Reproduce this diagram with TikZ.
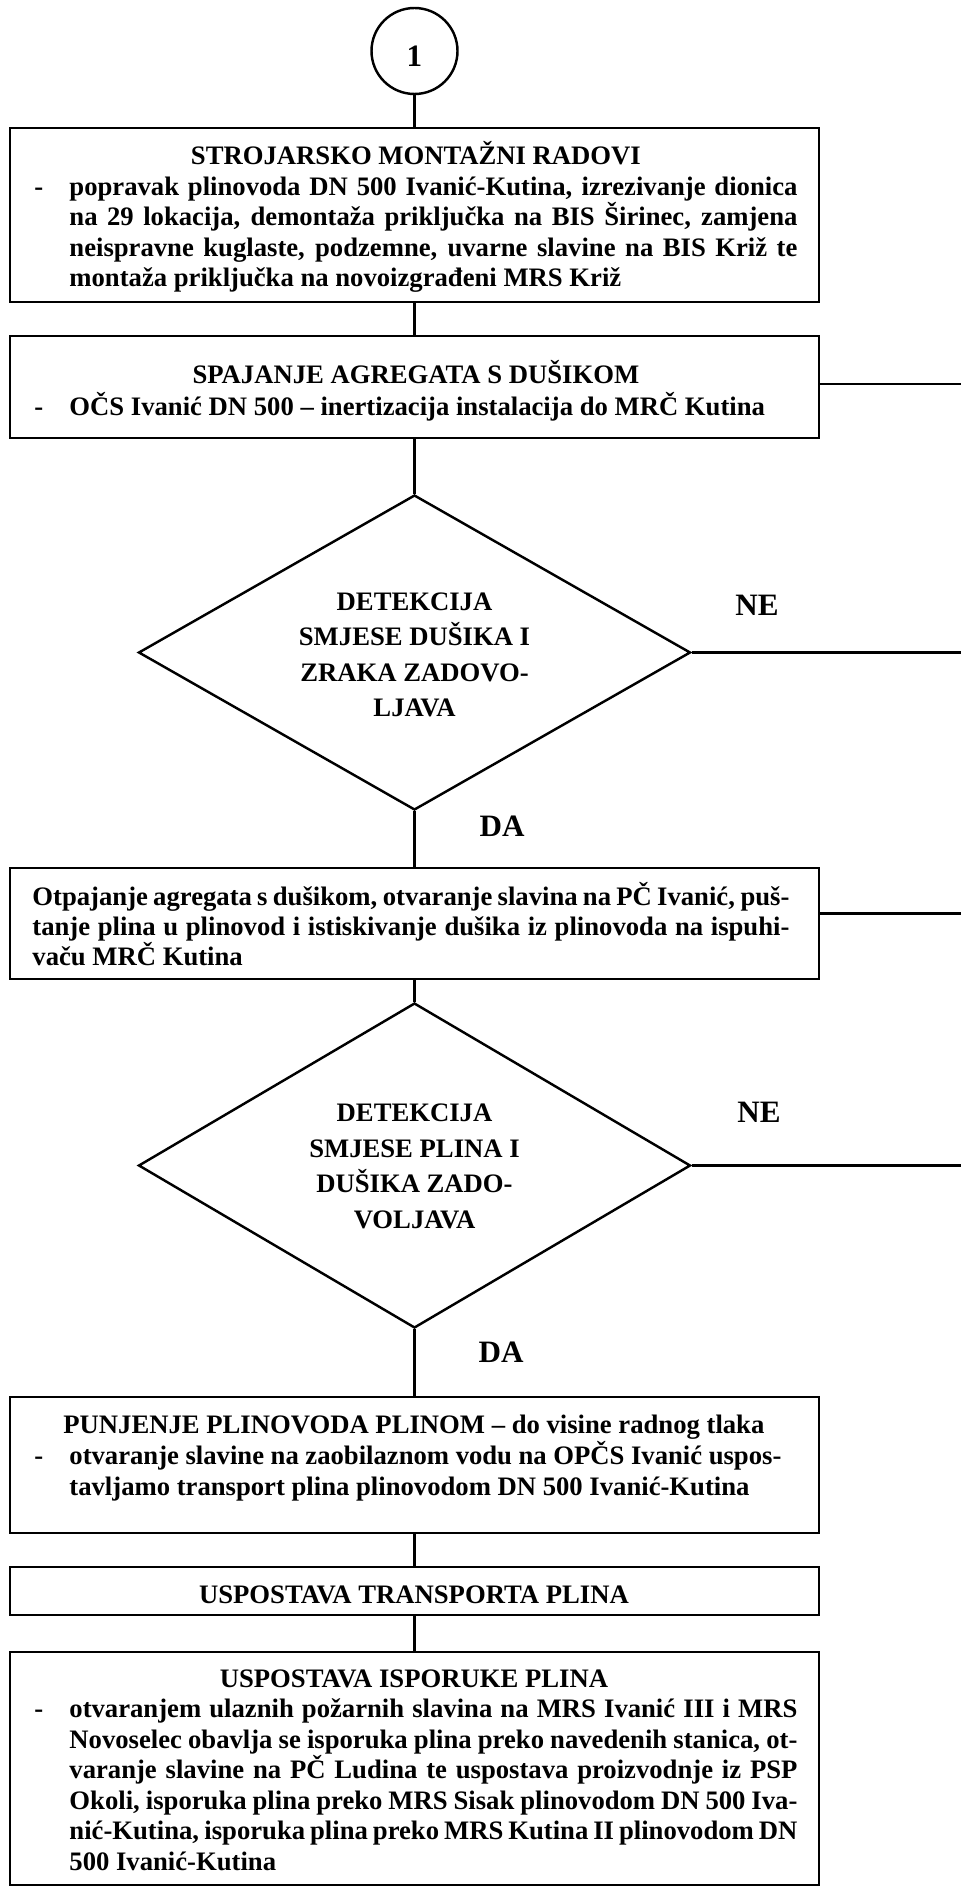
\documentclass[tikz,border=0pt]{standalone}
\usepackage{fontspec}
\setmainfont{Liberation Serif}
\usetikzlibrary{shapes.geometric}
\newdimen\pxu \pxu=0.45pt
\newcommand\JL[2]{\hbox to #1\pxu{#2}}
\newcommand\CL[2]{\hbox to #1\pxu{\hfil #2\hfil}}
\newcommand\DS{\hbox to 35\pxu{-\hfil}}
\newcommand\IN{\hskip 35\pxu\relax}
\newcommand\BLK[2]{\vtop{\baselineskip=#1\pxu\lineskiplimit=-20pt\lineskip=0pt\relax #2}}
\tikzset{
  boxn/.style={draw, line width=1.3pt, rectangle, minimum width=809\pxu, inner sep=0pt},
  dia/.style={draw, line width=1.1pt, diamond, minimum width=552\pxu, minimum height=315\pxu, inner sep=0pt},
  circ/.style={draw, line width=1.1pt, circle, minimum size=86\pxu, inner sep=0pt,
    font=\fontsize{14}{16}\selectfont\bfseries, text height=14pt, text depth=0pt},
  conn/.style={line width=1.1pt},
  txt/.style={inner sep=0pt, font=\fontsize{12}{13.7}\selectfont\bfseries, anchor=base west},
  lab/.style={inner sep=0pt, font=\fontsize{14}{16}\selectfont\bfseries},
}
\begin{document}
\begin{tikzpicture}[x=0.45pt, y=-0.45pt]
\useasboundingbox (0,0) rectangle (961,1887);
\fill[white] (0,0) rectangle (961,1887);

% shapes
\node[circ] (c) at (414.5,51) {1};
\node[boxn, minimum height=174\pxu] (b1) at (414.5,215) {};
\node[boxn, minimum height=102\pxu] (b2) at (414.5,387) {};
\node[dia] (d1) at (414.5,652.5) {};
\node[boxn, minimum height=111\pxu] (b3) at (414.5,923.5) {};
\node[dia, minimum height=325\pxu] (d2) at (414.5,1165.5) {};
\node[boxn, minimum height=136\pxu] (b4) at (414.5,1465) {};
\node[boxn, minimum height=48\pxu] (b5) at (414.5,1591) {};
\node[boxn, minimum height=233\pxu] (b6) at (414.5,1768.5) {};

% texts
\node[txt] (t1) at (34,165) {\BLK{30.5}{%
\CL{763}{STROJARSKO MONTAŽNI RADOVI}
\JL{763}{\DS popravak plinovoda DN 500 Ivanić-Kutina, izrezivanje dionica}
\JL{763}{\IN na 29 lokacija, demontaža priključka na BIS Širinec, zamjena}
\JL{763}{\IN neispravne kuglaste, podzemne, uvarne slavine na BIS Križ te}
\JL{763}{\IN montaža priključka na novoizgrađeni MRS Križ\hfil}
}};
\node[txt] (t2) at (34,383) {\BLK{32}{%
\CL{763}{SPAJANJE AGREGATA S DUŠIKOM}
\JL{763}{\DS OČS Ivanić DN 500 – inertizacija instalacija do MRČ Kutina\hfil}
}};
\node[txt, anchor=base] (q1) at (414.5,610) {\BLK{35.5}{%
\CL{320}{DETEKCIJA}
\CL{320}{SMJESE DUŠIKA I}
\CL{320}{ZRAKA ZADOVO-}
\CL{320}{LJAVA}
}};
\node[txt] (t3) at (32,905) {\BLK{30}{%
\JL{757}{Otpajanje agregata s dušikom, otvaranje slavina na PČ Ivanić, puš-}
\JL{757}{tanje plina u plinovod i istiskivanje dušika iz plinovoda na ispuhi-}
\JL{757}{vaču MRČ Kutina\hfil}
}};
\node[txt, anchor=base] (q2) at (414.5,1121.5) {\BLK{35.5}{%
\CL{320}{DETEKCIJA}
\CL{320}{SMJESE PLINA I}
\CL{320}{DUŠIKA ZADO-}
\CL{320}{VOLJAVA}
}};
\node[txt] (t4) at (34,1433) {\BLK{31}{%
\CL{759}{PUNJENJE PLINOVODA PLINOM – do visine radnog tlaka}
\JL{747}{\DS otvaranje slavine na zaobilaznom vodu na OPČS Ivanić uspos-}
\JL{747}{\IN tavljamo transport plina plinovodom DN 500 Ivanić-Kutina\hfil}
}};
\node[txt] (t5) at (34,1603) {\BLK{30}{%
\CL{759}{USPOSTAVA TRANSPORTA PLINA}
}};
\node[txt] (t6) at (34,1687) {\BLK{30.5}{%
\CL{759}{USPOSTAVA ISPORUKE PLINA}
\JL{763}{\DS otvaranjem ulaznih požarnih slavina na MRS Ivanić III i MRS}
\JL{763}{\IN Novoselec obavlja se isporuka plina preko navedenih stanica, ot-}
\JL{763}{\IN varanje slavine na PČ Ludina te uspostava proizvodnje iz PSP}
\JL{763}{\IN Okoli, isporuka plina preko MRS Sisak plinovodom DN 500 Iva-}
\JL{763}{\IN nić-Kutina, isporuka plina preko MRS Kutina II plinovodom DN}
\JL{763}{\IN 500 Ivanić-Kutina\hfil}
}};

% labels
\node[lab] (ne1) at (757,605) {NE};
\node[lab] (da1) at (502,826) {DA};
\node[lab] (ne2) at (759,1112) {NE};
\node[lab] (da2) at (501,1352) {DA};

% connectors
\draw[conn] (c) -- (b1);
\draw[conn] (b1) -- (b2);
\draw[conn] (b2) -- (d1);
\draw[conn] (d1) -- (b3);
\draw[conn] (b3) -- (d2);
\draw[conn] (d2) -- (b4);
\draw[conn] (b4) -- (b5);
\draw[conn] (b5) -- (b6);

% outgoing lines to the right
\coordinate (e2) at (961,384);
\coordinate (e3) at (961,652.5);
\coordinate (e4) at (961,913.5);
\coordinate (e5) at (961,1165.5);
\draw[conn] (b2.east |- e2) -- (e2);
\draw[conn] (d1.east) -- (e3);
\draw[conn] (b3.east |- e4) -- (e4);
\draw[conn] (d2.east) -- (e5);
\end{tikzpicture}
\end{document}
